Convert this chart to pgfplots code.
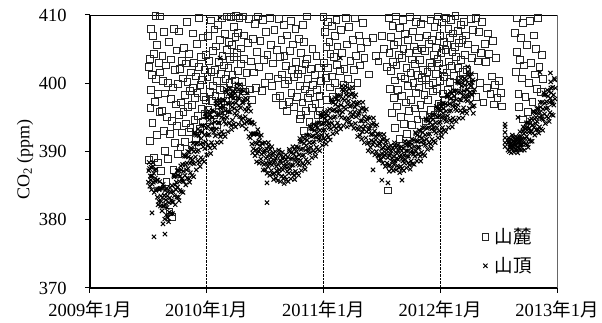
\documentclass[border=0pt]{standalone}
\usepackage{pgfplots}
\usepackage{pgfplotstable}
\pgfplotsset{compat=1.18}
\usepackage{fontspec}
\setmainfont{Liberation Serif}
\newfontfamily\cjk{Noto Sans CJK JP}
\newcommand\ym[1]{#1{\cjk 年}1{\cjk 月}}
% x = (year - 2009) * 100
\pgfplotstableread{
x y
50.5 388.8
50.8 402.4
51.2 403.6
51.5 391.6
51.8 396.4
52 399.0
52.5 408.0
53 401.2
53.5 394.2
54 406.9
54.5 404.3
55 389.1
55.5 397.3
56 409.9
56.5 400.6
57 405.6
57.5 392.4
58 398.4
58.5 388.4
59 403.0
59.5 395.8
60 409.8
60 401.6
61 387.2
61.5 396.0
62 404.0
62.5 400.3
63 393.0
63.5 407.5
64 390.1
64.5 398.5
65 402.6
65.5 385.6
66 395.1
66.5 400.0
67 388.9
67.5 406.0
68 381.2
68.5 392.6
69 397.7
69.5 403.5
70 380.4
70.5 394.5
71 399.4
71.5 387.3
72 408.0
72.5 401.9
73 391.2
73.5 396.9
74 404.8
74.5 393.8
75 389.6
75.5 399.9
76 407.6
76.5 395.4
77 402.1
77.5 390.6
78 397.2
78.5 403.3
79 392.8
79.5 400.7
80 395.8
80.5 405.2
81 398.3
81.5 391.4
82 402.9
82.5 394.1
83 409.0
83.5 400.2
84 396.5
84.5 392.9
85 404.3
85.5 398.9
86 393.5
86.5 401.6
87 396.8
87.5 390.9
88 407.3
88.5 399.3
89 403.0
89.5 394.6
90 397.9
90.5 401.0
91 392.0
91.5 405.8
92 398.6
92.5 395.2
93 402.4
93.5 409.6
94 393.3
94.5 399.8
95 403.8
95.5 396.2
96 400.5
96.5 394.4
97 406.7
97.5 398.0
98 401.9
98.5 395.5
99 404.1
99.5 397.5
100.5 400.9
101 406.9
101.5 396.1
102 403.3
102.5 398.7
103 394.6
103.5 409.2
104 401.7
104.5 397.4
105 404.7
105.5 399.6
106 395.3
106.5 407.9
107 402.0
107.5 398.2
108 405.4
108.5 393.9
109 400.3
109.5 408.6
110 396.8
110.5 403.1
111 399.0
111.5 406.3
112 401.4
112.5 397.1
113 409.5
113.5 404.0
114 395.9
114.5 402.6
115 399.3
115.5 407.2
116 400.6
116.5 396.4
117 404.9
117.5 409.8
118 398.4
118.5 402.2
119 406.0
119.5 400.0
120 403.5
120.5 409.7
121 398.9
121.5 405.6
122 401.2
122.5 397.5
123 408.3
123.5 403.9
124 400.4
124.5 406.8
125 409.9
125.5 398.1
126 404.4
126.5 401.8
127 407.4
127.5 399.5
128 409.6
129 402.8
129.5 405.1
130 400.2
131 409.8
131.5 403.6
132 407.0
133 398.8
134 401.5
135 405.9
136 409.4
137 399.1
138 403.2
139 397.6
139.5 406.5
140.5 401.6
141 408.7
142 399.3
143 404.6
144 409.8
145 402.4
146 406.2
147 398.9
148 409.3
149 403.4
150 400.1
151 407.5
152 404.2
153 401.0
154 409.6
155 405.6
156 399.6
157 402.9
158 407.8
159 397.8
160 404.9
161 400.7
162 409.4
162.5 403.8
163 398.2
164 406.3
164.5 401.3
165 396.8
166 408.5
166.5 404.0
167 399.9
168 402.5
168.5 395.9
169 407.0
170 400.4
170.5 397.3
171 404.7
172 409.1
172.5 398.6
173 402.0
174 405.7
174.5 396.5
175 400.9
176 408.0
176.5 403.1
177 398.0
178 401.4
179 406.5
179.5 394.8
180 399.6
180.5 404.4
181 395.3
181.5 401.9
182 397.2
182.5 408.5
183 393.0
183.5 406.0
184 399.1
184.5 402.8
185 395.9
185.5 409.8
186 403.6
186.5 397.9
187 400.6
188 394.3
188.5 398.5
189 402.1
190 396.4
190.5 405.0
191 399.8
192 393.6
192.5 401.2
193 397.0
194 404.0
194.5 399.0
195 395.4
196 402.3
196.5 398.2
197 396.0
198 400.3
199 394.9
200 409.7
200.5 403.0
201 407.5
202 400.8
202.5 405.3
203 397.6
203.5 409.0
204 402.2
205 406.1
205.5 399.4
206 404.3
207 408.4
207.5 401.0
208 398.0
209 403.9
209.5 406.9
210 400.0
211 409.3
211.5 402.7
212 405.4
213 398.7
214 401.8
215 407.8
216 404.5
217 399.8
218 402.1
219 409.6
220 405.7
221 400.6
222 408.2
223 403.3
224 399.6
225 406.4
226 401.9
227 409.5
228 404.0
229 400.1
230 407.0
231 402.6
232 405.2
234 408.8
235 403.7
237 406.0
239 401.3
242 406.6
245 404.0
247 403.2
250 406.9
252 405.0
254 402.4
255 384.3
256 409.6
256.5 404.5
257 399.2
257.5 406.8
258 401.8
258.5 395.6
259 408.4
259.5 403.1
260 397.8
260.5 405.6
261 400.4
261.5 393.4
262 409.8
262.5 402.6
263 396.6
263.5 406.1
264 399.0
264.5 404.1
265 391.8
265.5 408.1
266 401.0
266.5 395.1
267 403.7
267.5 398.1
268 409.3
268.5 405.0
269 394.0
269.5 400.7
270 407.2
270.5 397.2
271 402.2
271.5 392.6
272 406.3
272.5 399.6
273 404.4
273.5 395.9
274 409.7
274.5 401.5
275 397.6
275.5 403.5
276 393.9
276.5 407.6
277 400.0
277.5 405.4
278 396.3
278.5 402.8
279 409.0
279.5 398.6
280 404.8
280.5 394.7
281 401.2
281.5 406.7
282 399.4
282.5 403.4
283 396.8
283.5 408.7
284 400.8
284.5 405.1
285 395.3
285.5 402.0
286 409.5
286.5 398.3
287 404.7
287.5 400.5
288 394.4
288.5 407.0
289 401.7
289.5 397.5
290 405.8
290.5 399.7
291 403.0
291.5 409.2
292 396.1
292.5 402.4
293 406.4
293.5 400.1
294 398.8
294.5 404.2
295 408.3
295.5 395.4
296 401.4
296.5 405.2
297 399.2
297.5 403.6
298 409.8
298.5 397.0
299 402.9
299.5 406.9
300 400.3
300.5 396.7
301 404.4
301.5 408.9
302 398.5
302.5 402.1
303 406.0
303.5 400.9
304 397.4
304.5 404.9
305 409.6
305.5 401.6
306 405.6
306.5 399.0
307 408.0
307.5 403.2
308 400.2
308.5 406.6
309 409.3
309.5 402.5
310 398.2
310.5 404.6
311 407.3
312 401.1
312.5 405.3
313 409.9
313.5 403.9
314 399.6
315 407.7
315.5 402.3
316 405.9
317 400.5
317.5 408.6
318 403.4
319 406.3
319.5 401.7
320 409.0
321 404.2
321.5 398.4
322 407.0
323 402.0
324 405.7
325 399.8
326 409.4
327 403.7
328 407.8
329 400.9
330 405.0
330.5 409.6
331 398.0
332 403.2
333 407.5
334 400.0
335 404.4
336 409.0
337 397.2
338 405.8
339 403.1
340 399.3
341 407.3
342 404.3
343 398.4
344 401.0
345 406.2
346 396.9
347 399.7
348 403.7
349 397.8
350 400.3
352 398.6
353 396.6
364 407.4
365 401.7
365.5 404.6
366 409.5
367 398.4
367.5 396.5
368 403.4
369 406.6
370 400.7
370.5 394.7
371 408.8
372 402.6
373 398.0
374 405.6
375 395.8
376 400.0
377 409.1
378 403.0
379 397.3
380 407.0
381 401.3
382 405.0
383 399.2
384 409.6
385 402.4
386 398.7
387 404.2
388 400.6
}\foot
\pgfplotstableread{
x y
50 385.5
50.3 387.2
50.7 388.4
51 387.5
51.3 384.9
51.7 386.4
52 385.8
52.3 387.7
52.7 384.4
53 386.4
53.3 385.2
53.7 388.4
54 387.8
54.3 385.5
54.7 386.8
55 384.0
55.3 387.3
55.7 385.7
56 386.1
56.3 384.3
56.7 387.4
53.1 381.0
54.8 377.5
64.2 377.9
62.5 379.4
57 384.5
57.3 385.8
57.7 383.3
58 385.8
58.3 382.2
58.7 384.5
59 382.7
59.3 384.4
59.7 385.6
60 384.6
60.3 382.0
60.7 383.5
61 382.7
61.3 384.6
61.7 381.3
62 383.2
62.3 382.0
62.7 385.2
63 384.8
63.3 382.0
63.7 383.6
64 380.1
64.3 384.3
64.7 382.3
65 382.9
65.3 380.7
65.7 384.6
66 381.8
66.3 383.5
66.7 380.3
67 384.1
67.3 379.7
67.7 382.5
68 381.1
68.3 383.2
68.7 384.7
69 384.1
69.3 380.9
69.7 382.8
70 382.6
70.3 385.0
70.7 380.9
71 384.1
71.3 382.6
71.7 386.5
72 386.3
72.3 383.5
72.7 385.1
73 382.2
73.3 386.4
73.7 384.4
74 385.5
74.3 383.3
74.7 387.2
75 384.8
75.3 386.5
75.7 383.3
76 387.2
76.3 382.8
76.7 385.6
77 384.3
77.3 386.4
77.7 387.9
78 387.3
78.3 384.1
78.7 386.0
79 385.7
79.3 388.1
79.7 384.0
80 387.1
80.3 385.6
80.7 389.5
81 389.3
81.3 386.5
81.7 388.1
82 385.1
82.3 389.3
82.7 387.3
83 388.3
83.3 386.1
83.7 390.0
84 387.5
84.3 389.2
84.7 386.0
85 389.9
85.3 385.5
85.7 388.3
86 386.9
86.3 389.0
86.7 390.5
87 390.3
87.3 386.5
87.7 388.8
88 388.3
88.3 391.2
88.7 386.3
89 390.0
89.3 388.2
89.7 392.8
90 392.5
90.3 389.2
90.7 391.1
91 387.3
91.3 392.4
91.7 390.0
92 391.2
92.3 388.6
92.7 393.3
93 390.2
93.3 392.3
93.7 388.4
94 393.0
94.3 387.8
94.7 391.1
95 389.1
95.3 391.9
95.7 393.8
96 392.9
96.3 388.8
96.7 391.2
97 390.7
97.3 393.8
97.7 388.5
98 392.4
98.3 390.4
98.7 395.5
99 395.1
99.3 391.4
99.7 393.5
100 389.5
100.3 395.0
100.7 392.4
101 393.7
101.3 390.9
101.7 395.9
102 392.5
102.3 394.7
102.7 390.5
103 395.4
103.3 389.7
103.7 393.3
104 391.3
104.3 394.1
104.7 396.0
105 395.0
105.3 390.9
105.7 393.3
106 392.8
106.3 395.9
106.7 390.6
107 394.3
107.3 392.3
107.7 397.4
108 397.0
108.3 393.3
108.7 395.4
109 391.3
109.3 396.8
109.7 394.2
110 395.4
110.3 392.6
110.7 397.6
111.3 409.6
111.5 403.7
111 394.2
111.3 396.4
111.7 392.2
112 397.1
112.3 391.4
112.7 395.0
113 392.9
113.3 395.7
113.7 397.6
114 396.6
114.3 392.5
114.7 394.9
115 394.4
115.3 397.5
115.7 392.2
116 396.0
116.3 394.0
116.7 399.1
117 398.7
117.3 395.0
117.7 397.1
118 392.9
118.3 398.4
118.7 395.8
119 397.0
119.3 394.2
119.7 399.2
120 395.8
120.3 398.0
120.7 393.8
121 398.4
121.3 393.2
121.7 396.5
122 394.6
122.3 397.1
122.7 398.9
123 397.8
123.3 394.0
123.7 396.3
124 395.6
124.3 398.5
124.7 393.6
125 397.1
125.3 395.3
125.7 399.9
126 399.3
126.3 396.0
126.7 397.9
127 394.0
127.3 399.1
127.7 396.7
128 397.7
128.3 395.1
128.7 399.8
129 396.4
129.3 398.5
129.7 394.6
130 399.0
130.3 393.8
130.7 397.1
131 394.9
131.3 397.3
131.7 398.9
132 397.6
132.3 394.1
132.7 396.2
133 395.1
133.3 397.8
133.7 393.3
134 395.9
134.3 394.3
134.7 398.6
135 397.6
135.3 394.5
135.7 396.3
136 392.2
136.3 396.8
136.7 394.6
137 394.2
137.3 392.0
137.7 395.9
138 392.6
138.3 394.3
138.7 391.1
139 394.2
139.3 389.8
139.7 392.6
140 390.4
140.3 392.5
140.7 394.0
141 392.6
141.3 389.4
141.7 391.3
142 390.2
142.3 392.6
142.7 388.5
143 391.1
143.3 389.7
143.7 393.2
144 392.6
144.3 390.1
144.7 391.5
145 388.3
145.3 392.1
145.7 390.3
146 390.8
146.3 388.9
146.7 392.4
147 389.6
147.3 391.2
147.7 388.3
148 391.2
148.3 387.3
148.7 389.8
149 388.1
149.3 390.0
149.7 391.3
150 390.2
150.3 387.3
150.7 389.0
151.6 385.4
151.6 382.5
151 388.3
151.3 390.4
151.7 386.8
152 389.2
152.3 387.8
152.7 391.3
153 390.8
153.3 388.3
153.7 389.7
154 386.5
154.3 390.3
154.7 388.5
155 389.1
155.3 387.2
155.7 390.7
156 388.0
156.3 389.6
156.7 386.7
157 389.8
157.3 385.9
157.7 388.4
158 386.8
158.3 388.7
158.7 390.0
159 389.0
159.3 386.1
159.7 387.8
160 387.2
160.3 389.3
160.7 385.7
161 388.1
161.3 386.7
161.7 390.2
162 389.8
162.3 387.3
162.7 388.7
163 385.6
163.3 389.4
163.7 387.6
164 388.3
164.3 386.4
164.7 389.9
165 387.3
165.3 388.9
165.7 386.0
166 389.2
166.3 385.3
166.7 387.8
167 386.3
167.3 388.2
167.7 389.5
168 388.8
168.3 385.9
168.7 387.6
169 387.1
169.3 389.2
169.7 385.6
170 388.2
170.3 386.8
170.7 390.3
171 390.0
171.3 387.5
171.7 388.9
172 386.0
172.3 389.8
172.7 388.0
173 389.0
173.3 386.8
173.7 390.7
174 388.0
174.3 389.7
174.7 386.5
175 390.3
175.3 385.9
175.7 388.7
176 387.1
176.3 389.2
176.7 390.7
177 390.0
177.3 386.8
177.7 388.7
178 388.2
178.3 390.6
178.7 386.5
179 389.5
179.3 388.0
179.7 391.9
180 391.5
180.3 388.7
180.7 390.3
181 387.2
181.3 391.4
181.7 389.4
182 390.4
182.3 388.2
182.7 392.1
183 389.5
183.3 391.2
183.7 388.0
184 391.8
184.3 387.4
184.7 390.2
185 388.8
185.3 390.9
185.7 392.4
186 391.7
186.3 388.5
186.7 390.4
187 390.0
187.3 392.4
187.7 388.3
188 391.3
188.3 389.8
188.7 393.7
189 393.4
189.3 390.6
189.7 392.2
190 389.1
190.3 393.3
190.7 391.3
191 392.3
191.3 390.1
191.7 394.0
192 391.4
192.3 393.1
192.7 389.9
193 393.7
193.3 389.3
193.7 392.1
194 390.6
194.3 392.7
194.7 394.2
195 393.5
195.3 390.3
195.7 392.2
196 391.8
196.3 394.2
196.7 390.1
197 393.1
197.3 391.6
197.7 395.5
198 395.2
198.3 392.4
198.7 394.0
199 390.9
199.3 395.1
199.7 393.1
200 394.1
200.3 391.9
200.7 395.8
201 393.2
201.3 394.9
201.7 391.7
202 395.5
202.3 391.1
202.7 393.9
203 392.4
203.3 394.5
203.7 396.0
204 395.3
204.3 392.1
204.7 394.0
205 393.5
205.3 396.2
205.7 391.7
206 394.9
206.3 393.3
206.7 397.6
207 397.3
207.3 394.2
207.7 396.0
208 392.6
208.3 397.2
208.7 395.0
209 396.1
209.3 393.7
209.7 397.9
210 395.1
210.3 396.9
210.7 393.4
211 397.7
211.3 392.8
211.7 395.9
212 394.2
212.3 396.6
212.7 398.2
213 397.5
213.3 393.7
213.7 396.0
214 395.3
214.3 398.2
214.7 393.3
214.5 403.7
215 396.8
215.3 395.0
215.7 399.6
216 399.1
216.3 395.8
216.7 397.7
217 393.8
217.3 398.9
217.7 396.5
218 397.5
218.3 394.9
218.7 399.6
219 396.2
219.3 398.3
219.7 394.4
220 398.8
220.3 393.6
220.7 396.9
221 394.9
221.3 397.4
221.7 399.2
222 398.1
222.3 394.3
222.7 396.6
223 395.7
223.3 398.4
223.7 393.9
224 396.7
224.3 395.1
224.7 399.4
225 398.5
225.3 395.4
225.7 397.2
226 393.4
226.3 398.0
226.7 395.8
227 396.5
227.3 394.1
227.7 398.3
228 395.1
228.3 396.9
228.7 393.4
229 397.1
229.3 392.2
229.7 395.3
230 393.2
230.3 395.6
230.7 397.2
231 395.9
231.3 392.4
231.7 394.5
232 393.6
232.3 396.3
232.7 391.8
233 394.5
233.3 392.9
233.7 397.2
234 396.4
234.3 393.3
234.7 395.1
235 391.3
235.3 395.9
235.7 393.7
236 394.4
236.3 392.0
236.7 396.2
237 392.9
237.3 394.7
237.7 391.2
238 395.0
238.3 390.1
238.7 393.2
239 391.3
239.3 393.4
239.7 394.9
240 393.8
240.3 390.6
240.7 392.5
241 391.6
241.3 394.0
241.7 389.9
242 392.5
242.3 391.0
242.7 394.9
242.4 387.3
243 394.2
243.3 391.4
243.7 393.0
244 389.5
244.3 393.7
244.7 391.7
245 392.2
245.3 390.0
245.7 393.9
246 390.9
246.3 392.6
246.7 389.4
247 392.5
247.3 388.7
247.7 391.1
248 389.4
248.3 391.2
248.7 392.5
249 391.5
249.3 388.8
249.7 390.4
250 389.7
250.3 391.8
250.7 388.3
250 385.8
255.2 385.4
267.2 385.8
251 390.5
251.3 389.2
251.7 392.5
252 391.9
252.3 389.5
252.7 390.9
253 387.8
253.3 391.4
253.7 389.7
254 390.2
254.3 388.3
254.7 391.6
255 389.1
255.3 390.4
255.7 387.9
256 390.7
256.3 387.1
256.7 389.4
257 388.0
257.3 389.7
257.7 390.9
258 390.1
258.3 387.5
258.7 389.0
259 388.6
259.3 390.5
259.7 387.2
260 389.3
260.3 388.1
260.7 391.3
261 390.9
261.3 388.6
261.7 389.9
262 387.3
262.3 390.6
262.7 389.0
263 389.7
263.3 387.9
263.7 391.0
264 388.8
264.3 390.1
264.7 387.6
265 390.5
265.3 386.9
265.7 389.2
266 387.8
266.3 389.5
266.7 390.7
267 390.1
267.3 387.5
267.7 389.0
268 388.6
268.3 390.5
268.7 387.2
269 389.5
269.3 388.3
269.7 391.5
270 391.1
270.3 388.8
270.7 390.1
271 387.6
271.3 390.9
271.7 389.3
272 390.1
272.3 388.3
272.7 391.4
273 389.3
273.3 390.9
273.7 388.0
274 391.3
274.3 387.4
274.7 389.9
275 388.6
275.3 390.5
275.7 391.8
276 391.1
276.3 388.2
276.7 389.9
277 389.6
277.3 391.7
277.7 388.1
278 390.7
278.3 389.3
278.7 392.8
279 392.6
279.3 390.1
279.7 391.5
280 388.6
280.3 392.4
280.7 390.6
281 391.5
281.3 389.6
281.7 393.1
282 390.6
282.3 392.2
282.7 389.3
283 393.0
283.3 388.6
283.7 391.4
284 389.9
284.3 392.0
284.7 393.5
285 392.8
285.3 389.6
285.7 391.5
286 391.1
286.3 393.5
286.7 389.4
287 392.4
287.3 390.9
287.7 394.8
288 394.6
288.3 391.8
288.7 393.4
289 390.3
289.3 394.5
289.7 392.5
290 393.5
290.3 391.3
290.7 395.2
291 392.6
291.3 394.3
291.7 391.1
292 394.9
292.3 390.5
292.7 393.3
293 391.8
293.3 393.9
293.7 395.4
294 394.7
294.3 391.5
294.7 393.4
295 393.0
295.3 395.4
295.7 391.3
296 394.2
296.3 392.7
296.7 396.6
297 396.3
297.3 393.5
297.7 395.1
298 392.0
298.3 396.2
298.7 394.2
299 395.2
299.3 393.0
299.7 396.9
300 394.3
300.3 396.0
300.7 392.8
301 396.6
301.3 392.2
301.7 395.0
302 393.5
302.3 395.6
302.7 397.1
303 396.3
303.3 393.1
303.7 395.0
304 394.6
304.3 397.0
304.7 392.9
305 395.9
305.3 394.4
305.7 398.3
306 398.0
306.3 395.2
306.7 396.8
307 393.5
307.3 398.1
307.7 395.9
308 397.0
308.3 394.6
308.7 398.8
309 396.0
309.3 397.8
309.7 394.3
310 398.5
310.3 393.6
310.7 396.7
311 394.9
311.3 397.3
311.7 398.9
312 398.1
312.3 394.6
312.7 396.7
313 396.2
313.3 398.9
313.7 394.4
314 397.6
314.3 396.0
314.7 400.3
315 400.1
315.3 396.8
315.7 398.7
316 394.9
316.3 400.0
316.7 397.6
317 398.6
317.3 396.0
317.7 400.7
318 397.5
318.3 399.6
318.7 395.7
319 400.1
319.3 394.9
319.7 398.2
320 396.4
320.3 398.9
320.7 400.7
321 399.7
321.3 395.9
321.7 398.2
322 397.6
322.3 400.5
322.7 395.6
323.5 402.4
323 399.0
323.3 397.4
323.7 401.7
324 401.2
324.3 398.1
324.7 399.9
325 396.3
325.3 400.9
325.7 398.7
326 399.6
326.3 397.2
326.7 401.4
327 398.3
327.3 400.1
327.7 396.6
328 400.5
328.3 395.6
328.7 398.7
329 396.7
329.3 399.1
355.5 390.7
355.5 391.3
355.5 392.0
355.5 392.8
355.5 393.6
355.5 394.0
366.6 395.0
368.3 392.9
358 390.2
358.3 391.3
358.7 392.0
358.5 391.4
359 391.6
359.3 390.0
359.7 390.9
359.5 390.6
360 390.6
360.3 391.8
360.7 389.8
360.5 391.2
361 391.2
361.3 390.4
361.7 392.4
361.5 390.8
362 392.1
362.3 390.7
362.7 391.5
362.5 391.6
363 389.9
363.3 392.0
363.7 391.0
363.5 390.5
364 391.4
364.3 390.3
364.7 392.2
364.5 391.0
365 390.9
365.3 391.8
365.7 390.2
365.5 391.5
366 392.0
366.3 389.8
366.7 391.2
366.5 390.7
367 390.4
367.3 391.5
367.7 392.2
367.5 391.8
368 391.9
368.3 390.3
368.7 391.2
368.5 390.9
369 391.0
369.3 392.2
369.7 390.2
369.5 391.6
370 391.8
370.3 391.0
370.7 393.0
371 393.6
371.3 391.3
371.7 392.6
372 390.2
372.3 393.5
372.7 391.9
373 392.9
373.3 391.1
373.7 394.2
374 392.2
374.3 393.5
374.7 391.0
375 394.2
375.3 390.6
375.7 392.9
376 391.7
376.3 393.4
376.7 394.6
377 394.1
377.3 391.5
377.7 393.0
378 392.9
378.3 394.8
378.7 391.5
379 393.9
379.3 392.7
379.7 395.9
380 395.8
380.3 393.5
380.7 394.8
381 392.4
381.3 395.7
381.7 394.1
382 395.0
382.3 393.2
382.7 396.3
383 394.4
383.3 395.7
383.7 393.2
384 396.3
384.3 392.7
384.7 395.0
385 393.6
385.3 395.7
385.7 397.2
385.4 401.6
386 396.5
386.3 393.3
386.7 395.2
387 394.8
387.3 397.2
387.7 393.1
388 396.2
388.3 394.7
388.7 398.6
389 398.3
389.3 395.5
389.7 397.1
390 394.1
390.3 398.3
390.7 396.3
391 397.3
391.3 395.1
391.7 399.0
392 396.4
392.3 398.1
392.7 394.9
393 398.8
393.3 394.4
393.7 397.2
394 395.7
394.3 397.8
394.7 399.3
394.3 401.5
394.6 400.2
395 398.6
395.3 395.4
395.7 397.3
396 397.0
396.3 399.4
396.7 395.3
397 398.3
397.3 396.8
397.7 400.7
398 400.5
398.3 397.7
398.7 399.3
}\summit
\begin{document}
\fontsize{18.5}{22}\selectfont
\begin{tikzpicture}
\useasboundingbox (-90pt,-35pt) rectangle (512pt,288pt);
\begin{axis}[
  at={(0pt,0pt)}, anchor=south west,
  scale only axis, width=467pt, height=273pt,
  xmin=0, xmax=400, ymin=370, ymax=410,
  axis x line*=bottom, axis y line*=left,
  axis line style={black, line width=1.2pt},
  xtick={0,100,200,300,400},
  xticklabels={\ym{2009},\ym{2010},\ym{2011},\ym{2012},\ym{2013}},
  ytick={370,380,390,400,410},
  tick align=outside, major tick length=5pt,
  tick style={black, line width=1pt},
  xmajorgrids, grid style={densely dotted, black, line width=0.7pt},
  /pgf/number format/assume math mode=true,
  tick label style={font=\fontsize{18.5}{22}\selectfont},
  yticklabel style={xshift=-12pt},
  xticklabel style={yshift=-2pt},
  ylabel={CO\textsubscript{2} (ppm)},
  ylabel style={at={(axis description cs:0,0.47)}, anchor=center, yshift=65pt, font=\fontsize{18}{22}\selectfont},
  clip=false,
  legend style={draw=none, fill=none, at={(axis description cs:1,0)}, anchor=south east, xshift=-20pt, yshift=9pt, font=\fontsize{18.5}{22}\selectfont, row sep=7pt, /tikz/every odd column/.append style={column sep=4pt}},
  legend cell align=left,
]
\addplot[only marks, mark=square, mark size=3.4pt, mark options={draw=black!85, line width=0.85pt, fill=none}] table[x=x, y=y] {\foot};
\addlegendentry{{\cjk 山麓}}
\addplot[only marks, mark=x, mark size=3pt, mark options={draw=black, line width=1pt}] table[x=x, y=y] {\summit};
\addlegendentry{{\cjk 山頂}}
\draw[black, line width=0.8pt] (axis description cs:0,1) -- (axis description cs:1,1);
\draw[black!60, line width=0.6pt] (axis description cs:1,0) -- (axis description cs:1,1);
\end{axis}
\end{tikzpicture}
\end{document}
